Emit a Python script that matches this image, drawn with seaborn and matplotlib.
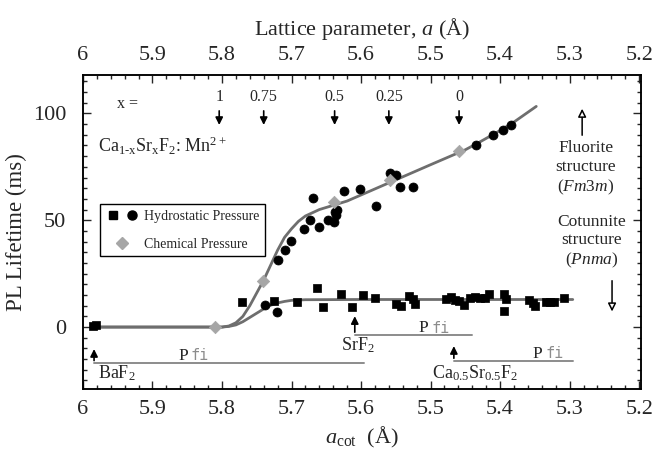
import numpy as np
import pandas as pd
import matplotlib
matplotlib.use('Agg')
import matplotlib.pyplot as plt
import seaborn as sns
from matplotlib.ticker import MultipleLocator, FuncFormatter
from matplotlib.lines import Line2D
from matplotlib.legend_handler import HandlerTuple

# hydrostatic pressure, squares (lower branch)
sq_a = [5.985, 5.981, 5.7705, 5.7251, 5.6925, 5.6638, 5.6542, 5.6293, 5.6125, 5.5967,
        5.5805, 5.5503, 5.5421, 5.5312, 5.5249, 5.5226, 5.4784, 5.4713, 5.4655, 5.4598,
        5.4519, 5.4440, 5.4368, 5.4296, 5.4217, 5.4163, 5.3937, 5.3922, 5.3937, 5.3578,
        5.3534, 5.3491, 5.3333, 5.3283, 5.3218, 5.3075]
sq_v = [0.5, 0.9, 11.5, 12.1, 11.5, 18.1, 9.5, 15.7, 9.5, 15.2,
        13.8, 10.9, 10.0, 14.6, 13.0, 10.8, 13.3, 14.0, 12.6, 12.0,
        10.3, 13.8, 13.9, 13.8, 13.6, 15.7, 15.7, 13.1, 7.7, 12.9,
        11.2, 10.0, 11.9, 11.9, 11.9, 13.8]

# hydrostatic pressure, circles (upper branch)
ci_a = [5.7385, 5.7203, 5.7194, 5.7098, 5.7011, 5.682, 5.6734, 5.66, 5.669, 5.6475,
        5.639, 5.638, 5.634, 5.636, 5.6246, 5.6016, 5.5786, 5.5585, 5.5493, 5.5441,
        5.5254, 5.4353, 5.4105, 5.3961, 5.3841]
ci_v = [10.3, 7.2, 31.3, 36.3, 40.2, 46.1, 50.3, 46.9, 60.4, 50.3,
        49.1, 54.0, 55.0, 52.5, 63.6, 64.8, 56.7, 72.3, 71.0, 65.6,
        65.6, 85.4, 89.7, 92.1, 94.4]

# chemical pressure, diamonds
di_a = [5.8103, 5.741, 5.639, 5.559, 5.4593]
di_v = [0.1, 21.6, 58.6, 68.7, 82.2]

# fitted curves
up_a = [5.985, 5.80, 5.79, 5.78, 5.77, 5.76, 5.75, 5.74, 5.73, 5.72, 5.71, 5.70,
        5.69, 5.68, 5.66, 5.62, 5.56, 5.50, 5.45, 5.43, 5.40, 5.38, 5.348]
up_v = [0, 0, 0.5, 2, 5, 10, 16, 22, 29, 36, 42, 46,
        49.5, 52, 55, 59, 67.5, 76, 83, 86.5, 92, 96, 103.3]
lo_a = [5.985, 5.80, 5.79, 5.78, 5.77, 5.76, 5.75, 5.74, 5.73, 5.72, 5.71, 5.70,
        5.68, 5.60, 5.2955]
lo_v = [0, 0, 0.3, 1, 2.5, 4.5, 6.5, 8.5, 10.2, 11.3, 12, 12.5,
        12.8, 12.9, 12.9]

# composition arrows
x_labels = ['1', '0.75', '0.5', '0.25', '0']
x_pos = [5.804, 5.740, 5.638, 5.560, 5.459]

sns.set_theme(style='ticks')
plt.rcParams['font.family'] = ['Liberation Serif', 'DejaVu Serif']
plt.rcParams['mathtext.fontset'] = 'custom'
plt.rcParams['mathtext.rm'] = 'Liberation Serif'
plt.rcParams['mathtext.it'] = 'Liberation Serif:italic'

fig, ax = plt.subplots(figsize=(6.53, 4.59), dpi=100)
fig.subplots_adjust(left=0.127, right=0.982, bottom=0.1525, top=0.8366)

line_col = '#6e6e6e'
sns.lineplot(x=up_a, y=up_v, sort=False, estimator=None, color=line_col, lw=2, ax=ax)
sns.lineplot(x=lo_a, y=lo_v, sort=False, estimator=None, color=line_col, lw=2, ax=ax)
sns.scatterplot(x=sq_a, y=sq_v, marker='s', s=40, color='black', edgecolor='black', ax=ax, zorder=3)
sns.scatterplot(x=ci_a, y=ci_v, marker='o', s=42, color='black', edgecolor='black', ax=ax, zorder=3)
sns.scatterplot(x=di_a, y=di_v, marker='D', s=40, color='#a6a6a6', edgecolor='#a6a6a6', ax=ax, zorder=4)

ax.set_xlim(6.0, 5.197)
ax.set_ylim(-29, 118)

fmt = FuncFormatter(lambda v, p: f'{round(v, 2):g}')
ax.xaxis.set_major_locator(MultipleLocator(0.1))
ax.xaxis.set_minor_locator(MultipleLocator(0.02))
ax.xaxis.set_major_formatter(fmt)
ax.yaxis.set_major_locator(MultipleLocator(50))
ax.yaxis.set_minor_locator(MultipleLocator(5))
ax.tick_params(which='both', direction='in', right=True, top=False, width=1, labelsize=16)
ax.tick_params(which='major', length=6)
ax.tick_params(which='minor', length=3)
ax.tick_params(axis='x', pad=8)
ax.tick_params(axis='y', pad=12)

ax2 = ax.twiny()
ax2.set_xlim(ax.get_xlim())
ax2.xaxis.set_major_locator(MultipleLocator(0.1))
ax2.xaxis.set_minor_locator(MultipleLocator(0.02))
ax2.xaxis.set_major_formatter(fmt)
ax2.tick_params(which='both', direction='in', width=1, labelsize=16, pad=7)
ax2.tick_params(which='major', length=6)
ax2.tick_params(which='minor', length=3)
ax2.set_xlabel('Lattice parameter, $a$ (Å)', fontsize=16, labelpad=8)

for sp in list(ax.spines.values()) + list(ax2.spines.values()):
    sp.set_linewidth(1.1)
    sp.set_color('black')

ax.set_xlabel(r'$a_{\mathrm{cot}}$  (Å)', fontsize=16, labelpad=4)
ax.set_ylabel('PL Lifetime (ms)', fontsize=16.5, labelpad=4)

# legend
h_sq = Line2D([], [], marker='s', ls='', color='black', ms=6)
h_ci = Line2D([], [], marker='o', ls='', color='black', ms=6.5)
h_di = Line2D([], [], marker='D', ls='', color='#a6a6a6', ms=6)
leg = ax.legend([(h_sq, h_ci), h_di], ['Hydrostatic Pressure', 'Chemical Pressure'],
                handler_map={tuple: HandlerTuple(ndivide=None, pad=0.3)},
                loc='upper left', bbox_to_anchor=(0.0305, 0.589), frameon=True, fancybox=False,
                edgecolor='black', framealpha=1, fontsize=10, handlelength=2.4,
                borderpad=0.4, labelspacing=1.1, handletextpad=0.4, borderaxespad=0)
leg.get_frame().set_linewidth(1.0)

# composition labels
ax.text(5.936, 104.5, 'x =', fontsize=11.5, ha='center', va='center')
for lab, xp in zip(x_labels, x_pos):
    ax.text(xp, 107.5, lab, fontsize=11.5, ha='center', va='center')
    ax.annotate('', xy=(xp, 93.3), xytext=(xp, 102.5),
                arrowprops=dict(arrowstyle='-|>', color='black', lw=1.2, mutation_scale=11))
ax.text(5.978, 85, r'Ca$_{\mathrm{1\text{-}x}}$Sr$_{\mathrm{x}}$F$_2$: Mn$^{\mathrm{2+}}$', fontsize=13,
        ha='left', va='center')

# structure notes
ax.annotate('', xy=(5.282, 103.5), xytext=(5.282, 88.5),
            arrowprops=dict(arrowstyle='-|>', fc='white', ec='black', lw=1.1, mutation_scale=12))
for txt, yv in [('Fluorite', 84), ('structure', 75), ('($Fm3m$)', 65.6)]:
    ax.text(5.277, yv, txt, fontsize=12.5, ha='center', va='center')
for txt, yv in [('Cotunnite', 49.2), ('structure', 40.7), ('($Pnma$)', 31.3)]:
    ax.text(5.268, yv, txt, fontsize=12.5, ha='center', va='center')
ax.annotate('', xy=(5.239, 6.0), xytext=(5.239, 23),
            arrowprops=dict(arrowstyle='-|>', fc='white', ec='black', lw=1.1, mutation_scale=12))

# P fi markers
pfi_col = '#8c8c8c'
refs = [
    # arrow x, arrow head y, line y, line end x, P x, P y, label, label x, label y
    (5.984, -9.0, -17.0, 5.596, 5.849, -13.5, r'BaF$_2$', 5.978, -21.5),
    (5.609, 6.4, -3.7, 5.440, 5.503, -0.6, r'SrF$_2$', 5.629, -8.4),
    (5.4665, -7.6, -15.9, 5.2955, 5.339, -12.6, r'Ca$_{0.5}$Sr$_{0.5}$F$_2$', 5.4975, -21.5),
]
for axp, hy, ly, lend, px, py, lab, lx, lyy in refs:
    ax.plot([axp, lend], [ly, ly], color=pfi_col, lw=1.4)
    ax.annotate('', xy=(axp, hy), xytext=(axp, ly),
                arrowprops=dict(arrowstyle='-|>', color='black', lw=1.2, mutation_scale=11))
    ax.text(px, py, 'P', fontsize=12.5, ha='right', va='center')
    ax.text(px - 0.004, py, 'fi', fontsize=11, ha='left', va='center', color=pfi_col,
            family='DejaVu Sans Mono')
    ax.text(lx, lyy, lab, fontsize=13, ha='left', va='center')

fig.savefig('out.png', dpi=100)
